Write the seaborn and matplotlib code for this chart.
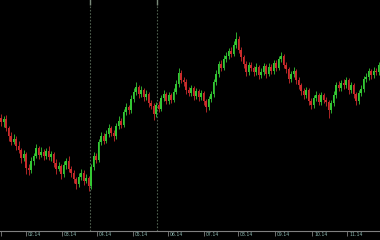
import matplotlib
matplotlib.use("Agg")
import matplotlib.pyplot as plt
import matplotlib.transforms as mtransforms
import seaborn as sns
import pandas as pd
import numpy as np

# ---- data ----
opens = [122,118,121,112,104,98,101,94,90,82,86,72,70,79,84,92,85,88,84,89,
         83,86,77,71,74,66,75,79,71,67,61,56,63,67,59,62,54,73,84,80,
         98,104,99,106,112,107,104,114,119,115,128,133,130,141,148,153,146,150,143,146,
         137,134,126,135,131,142,146,139,145,140,148,156,167,160,158,150,147,152,144,149,
         143,147,139,133,141,146,158,166,176,172,181,184,189,186,195,201,190,183,176,168,
         175,172,168,173,165,168,174,166,173,169,177,172,181,184,175,171,161,166,169,160,
         155,149,145,150,139,135,142,145,138,145,140,138,130,137,145,155,152,157,155,160,
         150,155,146,139,147,151,161,163,169,165,169,168]
closes = [118,121,112,104,98,101,94,90,82,86,72,70,79,84,92,85,88,84,89,83,
          86,77,71,74,66,75,79,71,67,61,56,63,67,59,62,54,73,84,80,98,
          104,99,106,112,107,104,114,119,115,128,133,130,141,148,153,146,150,143,146,137,
          134,126,135,131,142,146,139,145,140,148,156,167,160,158,150,147,152,144,149,143,
          147,139,133,141,146,158,166,176,172,181,184,189,186,195,201,190,183,176,168,175,
          172,168,173,165,168,174,166,173,169,177,172,181,184,175,171,161,166,169,160,155,
          149,145,150,139,135,142,145,138,145,140,138,130,137,145,155,152,157,155,160,150,
          155,146,139,147,151,161,163,169,165,169,168,175]
highs = [126,124,125,114,108,106,104,99,92,90,88,76,83,87,96,94,93,91,92,94,
         89,88,81,78,76,79,82,84,74,70,63,67,71,70,66,64,76,88,87,101,
         108,107,110,116,114,110,117,124,122,131,137,135,145,152,158,155,154,152,150,148,
         140,137,138,139,145,150,148,148,147,152,160,172,170,163,161,153,155,154,152,151,
         150,149,141,144,149,161,170,179,180,185,188,192,193,199,208,204,193,185,179,178,
         178,174,177,175,172,177,176,177,176,180,180,184,188,186,178,173,169,173,171,163,
         157,152,153,152,142,145,149,147,148,147,143,140,140,149,158,159,160,161,163,162,
         158,157,148,150,155,164,167,172,171,173,172,178]
lows = [114,113,109,99,95,96,90,87,77,79,66,65,67,75,82,81,83,80,81,80,
        79,73,66,69,61,63,71,68,63,57,51,53,60,55,57,49,51,70,77,78,
        95,96,97,103,104,99,101,111,112,113,125,126,127,138,145,142,143,139,140,133,
        131,120,123,128,129,139,136,136,137,138,146,153,157,154,146,144,144,140,141,139,
        140,135,128,130,138,143,155,163,169,170,178,181,183,184,192,187,179,172,164,165,
        169,164,165,161,162,165,162,164,166,166,169,170,178,172,167,157,158,163,156,151,
        145,141,142,135,131,132,139,135,135,137,134,122,127,134,142,149,149,151,152,146,
        147,142,135,136,144,148,158,160,161,162,165,165]
month_labels = ["02.14", "03.14", "04.14", "05.14", "06.14",
                "07.14", "08.14", "09.14", "10.14", "11.14"]

# ---- layout constants ----
tick_pos = [10, 24.4, 38.4, 52.8, 66.8, 81.2, 94.8, 109.6, 124.4, 138.4]
marker_lines = [35.6, 62.4]
UP = "#34c834"
DOWN = "#cc2c2c"

df = pd.DataFrame({"open": opens, "high": highs, "low": lows, "close": closes})
df["idx"] = np.arange(len(df))
df["up"] = df["close"] >= df["open"]
df["bottom"] = df[["open", "close"]].min(axis=1)
df["body"] = (df["close"] - df["open"]).abs().clip(lower=0.8)
df["color"] = np.where(df["up"], UP, DOWN)

sns.set_theme(style="dark", rc={"axes.facecolor": "black", "figure.facecolor": "black"})

fig = plt.figure(figsize=(3.8, 2.4), dpi=100)
ax = fig.add_axes([0, 9 / 240, 1, 231 / 240])
ax.set_facecolor("black")

# marker (vertical) lines
for xv in marker_lines:
    ax.axvline(xv, color="#4e5e4e", lw=0.8, ls=(0, (1.5, 1.5)), zorder=1)
    ax.plot([xv], [238], marker="|", ms=4, color="#7a8a7a", mew=1, zorder=2)

# wicks
ax.vlines(df["idx"], df["low"], df["high"], colors=df["color"], lw=0.6, zorder=3)
# bodies
ax.bar(df["idx"], df["body"], bottom=df["bottom"], width=0.6,
       color=df["color"], linewidth=0, zorder=4)

ax.set_xlim(-0.4, 151.6)
ax.set_ylim(9, 240)
ax.set_yticks([])
ax.grid(False)
for s in ["top", "left", "right"]:
    ax.spines[s].set_visible(False)
ax.spines["bottom"].set_color("#808080")
ax.spines["bottom"].set_linewidth(0.8)

ax.set_xticks([0] + tick_pos, labels=[""] + month_labels)
ax.tick_params(axis="x", length=3.6, width=0.6, color="#808080", direction="out",
               labelsize=3.3, labelcolor="#8cb8b0", pad=-2.6, bottom=True)
offset = mtransforms.ScaledTranslation(2 / 100, 0, fig.dpi_scale_trans)
for lbl in ax.get_xticklabels():
    lbl.set_horizontalalignment("left")
    lbl.set_transform(lbl.get_transform() + offset)

fig.savefig("out.png", dpi=100, facecolor="black")
